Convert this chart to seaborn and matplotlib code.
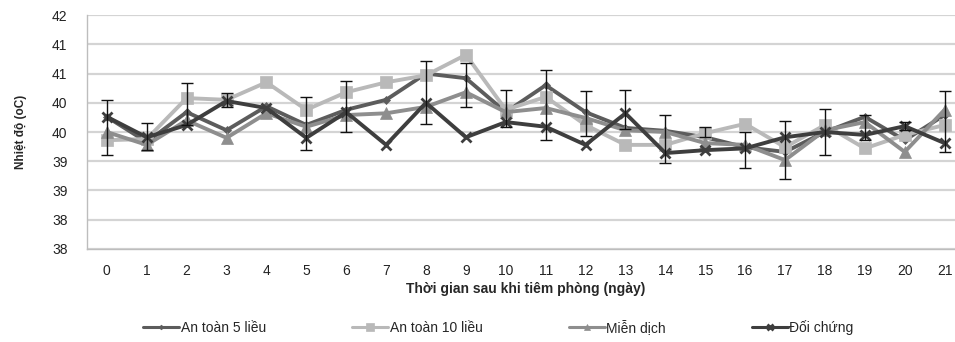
import matplotlib
matplotlib.use("Agg")
import matplotlib.pyplot as plt
import numpy as np
import pandas as pd
import seaborn as sns

days = list(range(22))

# mean temperature per group (oC)
an_toan_5 = [40.26, 39.83, 40.34, 40.03, 40.44, 40.12, 40.38, 40.55, 41.00, 40.92, 40.34,
             40.80, 40.34, 40.07, 40.02, 39.91, 39.74, 39.66, 40.00, 40.26, 39.86, 40.29]
an_toan_10 = [39.86, 39.88, 40.58, 40.55, 40.85, 40.38, 40.68, 40.85, 40.97, 41.32, 40.38,
              40.60, 40.12, 39.78, 39.78, 39.98, 40.14, 39.74, 40.12, 39.72, 39.95, 40.12]
mien_dich = [40.00, 39.78, 40.20, 39.90, 40.32, 40.09, 40.29, 40.32, 40.43, 40.68, 40.34,
             40.41, 40.24, 40.03, 40.00, 39.81, 39.78, 39.52, 40.03, 40.17, 39.66, 40.38]
doi_chung = [40.26, 39.91, 40.12, 40.53, 40.41, 39.90, 40.34, 39.78, 40.50, 39.91, 40.17,
             40.09, 39.78, 40.32, 39.64, 39.69, 39.72, 39.91, 40.00, 39.95, 40.10, 39.81]

# error bars (centre, half width); 0 = no bar drawn
err_mid = [40.08, 39.92, 40.48, 40.55, 0, 40.15, 40.44, 0, 40.68, 40.80, 40.40,
           40.46, 40.32, 40.38, 39.88, 40.00, 39.69, 39.69, 40.00, 40.08, 40.10, 40.18]
err_half = [0.47, 0.23, 0.36, 0.12, 0, 0.45, 0.44, 0, 0.54, 0.38, 0.32,
            0.60, 0.38, 0.33, 0.41, 0.08, 0.31, 0.50, 0.39, 0.21, 0.07, 0.52]

groups = ["An toàn 5 liều", "An toàn 10 liều", "Miễn dịch", "Đối chứng"]
colors = ["#5c5c5c", "#b9b9b9", "#8e8e8e", "#3e3e3e"]
markers = ["D", "s", "^", "x"]
msizes = [4, 9, 8, 7]

ytick_vals = [38, 38.5, 39, 39.5, 40, 40.5, 41, 41.5, 42]
ytick_labels = ["38", "38", "39", "39", "40", "40", "41", "41", "42"]

df = pd.DataFrame({"day": days * 4,
                   "temp": an_toan_5 + an_toan_10 + mien_dich + doi_chung,
                   "group": np.repeat(groups, len(days))})

sns.set_theme(style="white")
plt.rcParams["font.family"] = ["Liberation Sans", "DejaVu Sans"]

fig = plt.figure(figsize=(9.55, 3.42), dpi=100)
ax = fig.add_axes([0.091, 0.272, 0.919, 0.684])

for g, c, m, ms in zip(groups, colors, markers, msizes):
    sub = df[df["group"] == g]
    sns.lineplot(data=sub, x="day", y="temp", color=c, marker=m, markersize=ms,
                 markeredgecolor=c, markeredgewidth=2 if m == "x" else 0.5,
                 linewidth=2.8, label=g, ax=ax, zorder=3)

mask = np.array(err_half) > 0
ax.errorbar(np.array(days)[mask], np.array(err_mid)[mask], yerr=np.array(err_half)[mask],
            fmt="none", ecolor="#111111", elinewidth=1, capsize=4, capthick=1, zorder=4)

ax.set_xlim(-0.5, 21.5)
ax.set_ylim(38, 42)
ax.set_xticks(days)
ax.set_xticklabels([str(d) for d in days], fontsize=10, color="#222222")
ax.set_yticks(ytick_vals)
ax.set_yticklabels(ytick_labels, fontsize=10, color="#222222")
ax.tick_params(axis="x", length=0, pad=11)
ax.tick_params(axis="y", length=0, pad=14)
ax.grid(axis="y", color="#d4d4d4", linewidth=1.6)
ax.set_axisbelow(True)
for s in ["top", "right"]:
    ax.spines[s].set_visible(False)
for s in ["left", "bottom"]:
    ax.spines[s].set_color("#bdbdbd")
    ax.spines[s].set_linewidth(1)

ax.set_xlabel("Thời gian sau khi tiêm phòng (ngày)", fontsize=10, fontweight="bold", labelpad=3)
ax.set_ylabel("Nhiệt độ (oC)", fontsize=8.5, fontweight="bold", labelpad=18)

leg = ax.legend(loc="center", bbox_to_anchor=(0.469, -0.335), ncol=4, frameon=False,
                fontsize=10, handlelength=2.6, columnspacing=6.2, handletextpad=0.1,
                markerscale=0.6)
for line in leg.get_lines():
    line.set_linewidth(2.2)

fig.savefig("out.png", dpi=100)
